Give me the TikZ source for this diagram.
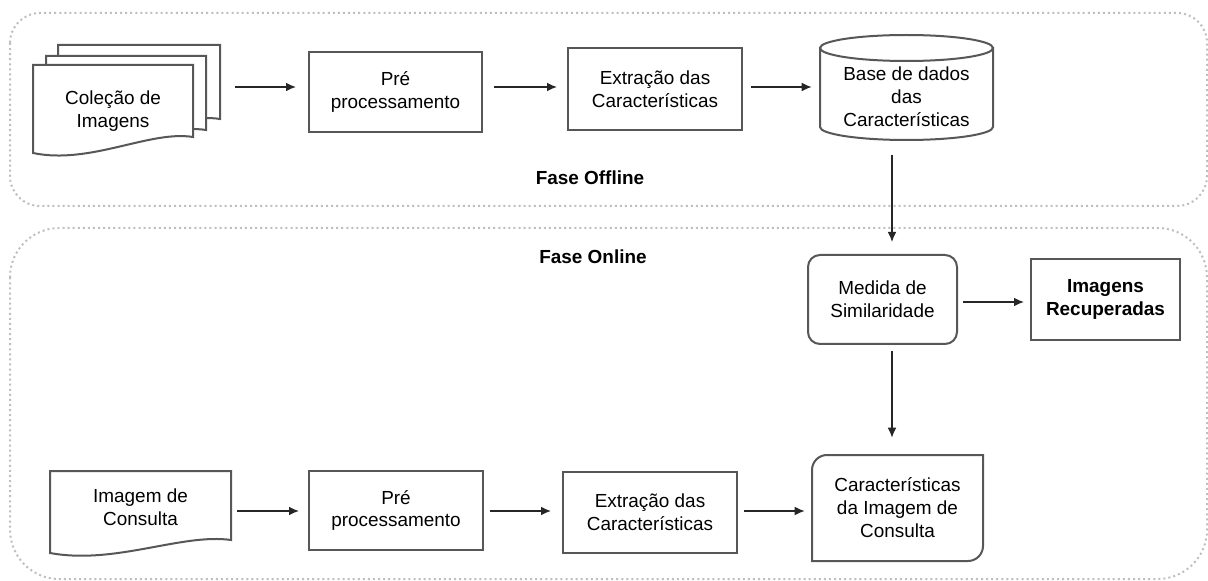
\documentclass[tikz,border=0pt]{standalone}
\usepackage{fontspec}
\setmainfont{Liberation Sans}
\usetikzlibrary{arrows.meta}
\definecolor{edgegray}{HTML}{575757}
\definecolor{zonegray}{HTML}{BEBEBE}

\begin{document}
\begin{tikzpicture}[x=0.75pt,y=-0.75pt,
  every node/.style={font=\fontsize{14.2}{17.2}\selectfont, align=center, inner sep=0pt},
  sz/.style 2 args={minimum width=#1*0.75pt, minimum height=#2*0.75pt},
  outline/.style={draw=edgegray, line width=1.5pt, fill=white},
  box/.style={outline, rectangle},
  zone/.style={draw=zonegray, line width=1.5pt, dash pattern=on 1.5pt off 2.3pt},
  arr/.style={-{Latex[length=7.5pt,width=6.5pt]}, line width=0.9pt, draw=black!85},
  phase/.style={font=\fontsize{14.2}{17}\selectfont\bfseries}
]
\useasboundingbox (0,0) rectangle (1208,581);

% phase containers
\draw[zone, rounded corners=22.5pt] (10,13) rectangle (1207,206);
\draw[zone, rounded corners=37pt] (10,228) rectangle (1207,579);

% rows and column used by the connectors
\coordinate (r1) at (0,87);
\coordinate (r2) at (0,511);
\coordinate (r3) at (0,302);
\coordinate (c1) at (892,0);

% stacked documents (image collection)
\draw[outline] (58,45) -- (220,45) -- (220,119) .. controls (177,112) and (117,147) .. (58,135) -- cycle;
\draw[outline] (46,56) -- (206,56) -- (206,130) .. controls (163,123) and (103,158) .. (46,146) -- cycle;
\draw[outline] (33,65) -- (193,65) -- (193,137) .. controls (150,130) and (90,165) .. (33,153) -- cycle;

% query image document
\draw[outline] (50,471) -- (231,471) -- (231,540) .. controls (182,533) and (115,565) .. (50,553) -- cycle;

% feature database cylinder
\draw[outline] (820,48) -- (820,127) arc[start angle=180,end angle=0,x radius=86.5,y radius=13] -- (993,48) -- cycle;
\draw[outline] (906.5,48) ellipse[x radius=86.5,y radius=13];

% query features card (two rounded corners)
\draw[outline] (812,561) -- (812,470) arc[start angle=180,end angle=270,radius=15]
  -- (983,455) -- (983,546) arc[start angle=0,end angle=90,radius=15] -- cycle;

% offline phase
\node[sz={160}{70}] (coll) at (113,111) {Coleção de\\Imagens};
\node[box, sz={173}{80}] (pre1) at (395.5,92) {Pré\\processamento};
\node[box, sz={174}{82}] (ext1) at (655,89) {Extração das\\Características};
\node[sz={173}{105},
  label={[name=dbtext, yshift=-7pt]center:{Base de dados\\das\\Características}}]
  (db) at (906.5,87.5) {};
\node[phase] (off) at (590,178) {Fase Offline};

% online phase
\node[phase] (on) at (593,257) {Fase Online};
\node[box, rounded corners=9pt, sz={149}{89}] (med) at (882.5,299.5) {Medida de\\Similaridade};
\node[box, sz={149}{81}, font=\fontsize{14.2}{17.2}\selectfont\bfseries] (rec) at (1105.5,299.5) {Imagens\\Recuperadas};
\node[sz={181}{72}] (img) at (140.5,507) {Imagem de\\Consulta};
\node[box, sz={174}{79}] (pre2) at (396,510.5) {Pré\\processamento};
\node[box, sz={174}{81}] (ext2) at (650,512.5) {Extração das\\Características};
\node[sz={171}{106}] (chars) at (897.5,508) {Características\\da Imagem de\\Consulta};

% connectors
\draw[arr, shorten <=31.5pt, shorten >=9pt] (coll.east |- r1) -- (pre1.west |- r1);
\draw[arr, shorten <=8pt, shorten >=7.5pt] (pre1.east |- r1) -- (ext1.west |- r1);
\draw[arr, shorten <=6pt, shorten >=6pt] (ext1.east |- r1) -- (db.west |- r1);
\draw[arr, shorten <=11pt, shorten >=9pt] (db.south -| c1) -- (med.north -| c1);
\draw[arr, shorten <=4pt, shorten >=4.5pt] (med.east |- r3) -- (rec.west |- r3);
\draw[arr, shorten <=4.5pt, shorten >=12.75pt] (med.south -| c1) -- (chars.north -| c1);
\draw[arr, shorten <=4.5pt, shorten >=6.75pt] (img.east |- r2) -- (pre2.west |- r2);
\draw[arr, shorten <=4.5pt, shorten >=8.25pt] (pre2.east |- r2) -- (ext2.west |- r2);
\draw[arr, shorten <=4.5pt, shorten >=5.25pt] (ext2.east |- r2) -- (chars.west |- r2);
\end{tikzpicture}
\end{document}
